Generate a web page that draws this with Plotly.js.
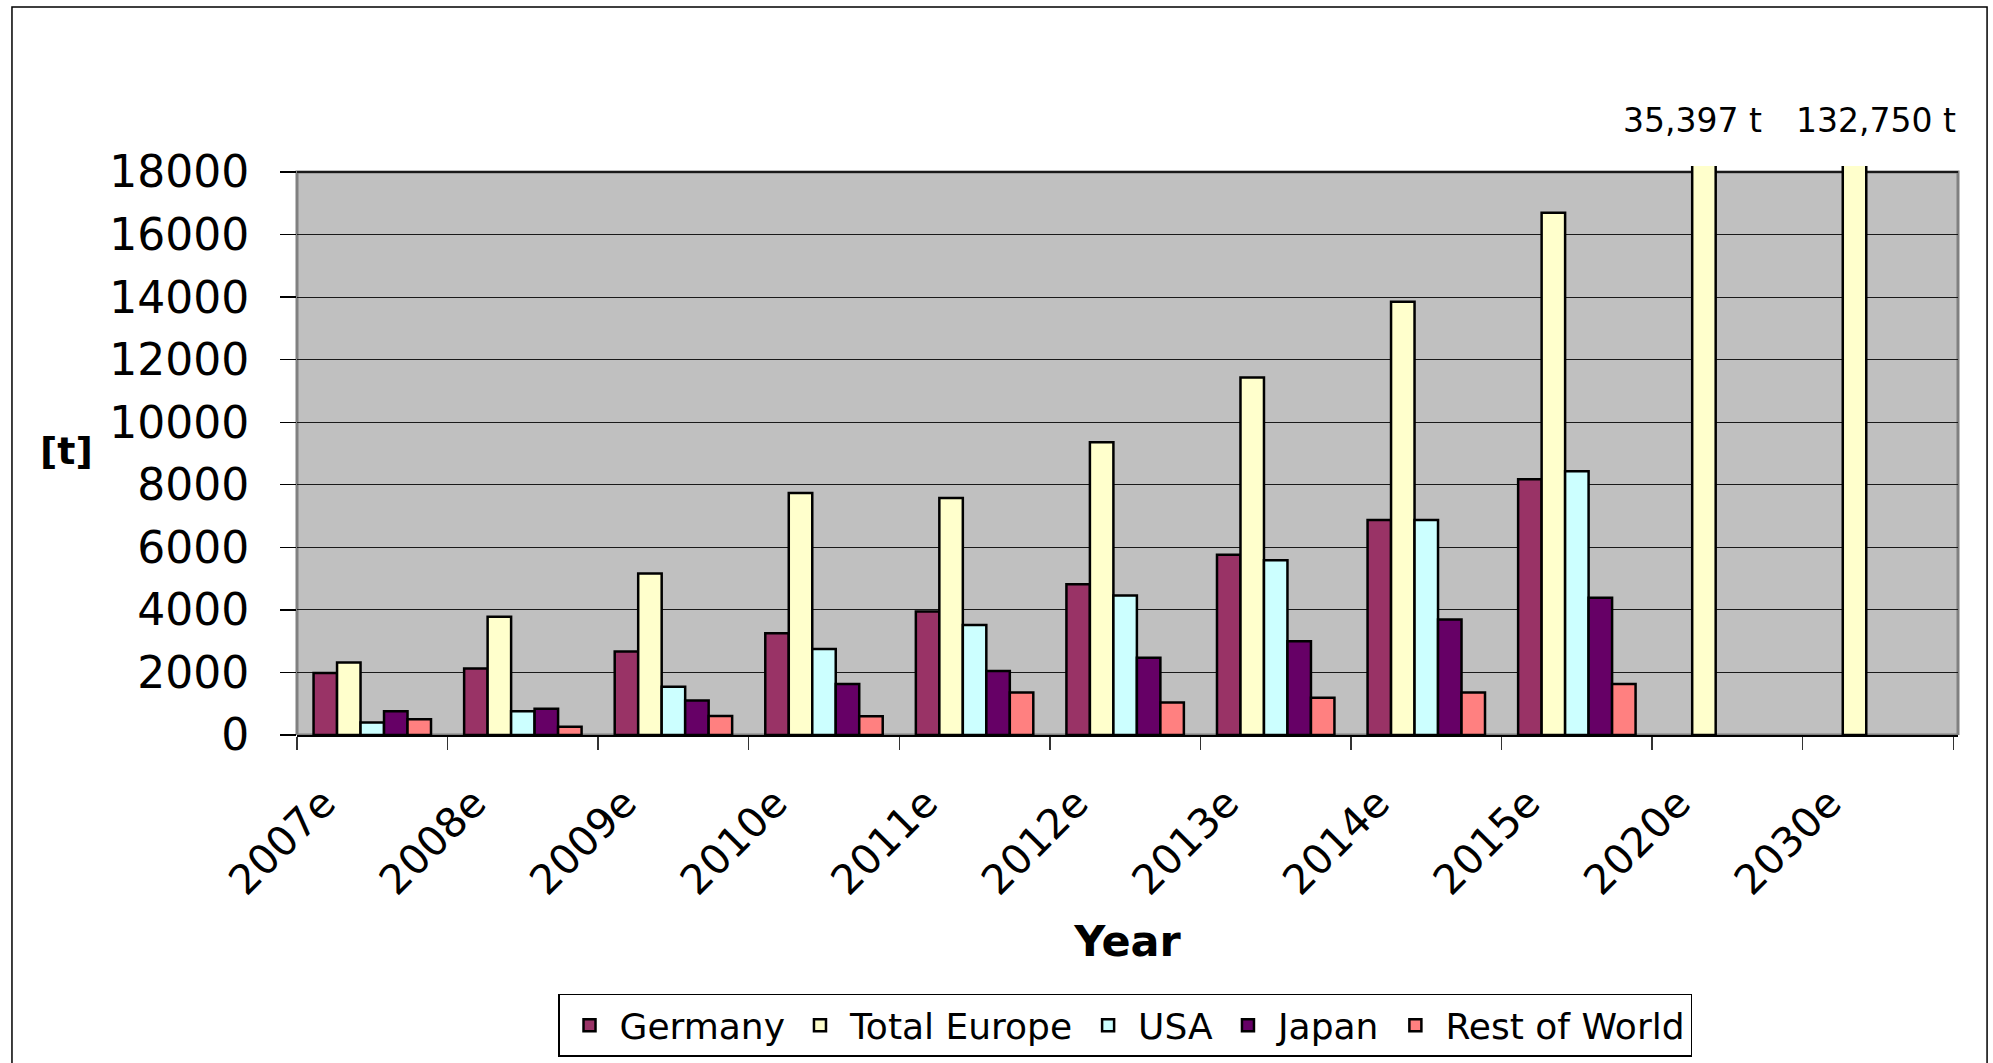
<!DOCTYPE html>
<html>
<head>
<meta charset="utf-8">
<script src="https://cdn.plot.ly/plotly-3.0.1.min.js"></script>
<style>html,body{margin:0;padding:0;background:#fff;}#chart{width:1993px;height:1063px;}</style>
</head>
<body>
<div id="chart"></div>
<script>
const categories = ['2007e','2008e','2009e','2010e','2011e','2012e','2013e','2014e','2015e','2020e','2030e'];
const germany     = [1980, 2130, 2670, 3250, 3950, 4820, 5760, 6870, 8180, null, null];
const totalEurope = [2320, 3780, 5160, 7740, 7580, 9360, 11430, 13850, 16700, 35397, 132750];
const usa         = [400, 760, 1540, 2750, 3520, 4460, 5590, 6870, 8430, null, null];
const japan       = [760, 840, 1100, 1630, 2050, 2470, 3000, 3690, 4390, null, null];
const restOfWorld = [500, 260, 610, 600, 1360, 1040, 1190, 1360, 1630, null, null];
const seriesNames = ['Germany','Total Europe','USA','Japan','Rest of World'];
const yTicks = [0,2000,4000,6000,8000,10000,12000,14000,16000,18000];
const yMax = 18000;

const colors = ['#993366','#FFFFCC','#CCFFFF','#660066','#FF8080'];
const FONT = 'DejaVu Sans, Liberation Sans, Arial, sans-serif';
const seriesData = [germany, totalEurope, usa, japan, restOfWorld];

const traces = seriesData.map((vals, i) => ({
  type: 'bar',
  name: seriesNames[i],
  x: categories,
  y: vals,
  marker: {color: colors[i], line: {color: '#000', width: 2.5}},
  hoverinfo: 'skip'
}));

function fmt(v){ return v.toLocaleString('en-US') + ' t'; }
const offChart = categories.map((c, i) => ({c, v: totalEurope[i]})).filter(d => d.v > yMax);
const shifts = [-35, -2];
const annotations = offChart.map((d, k) => ({
  xref: 'x', x: d.c, yref: 'paper', y: 1.08, yanchor: 'middle', xanchor: 'center',
  xshift: shifts[k] || 0, text: fmt(d.v), showarrow: false,
  font: {family: FONT, size: 33, color: '#000'}
}));
annotations.push({
  xref: 'paper', x: -0.139, yref: 'paper', y: 0.5, xanchor: 'center', yanchor: 'middle',
  text: '<b>[t]</b>', showarrow: false, font: {family: FONT, size: 38, color: '#000'}
});

const layout = {
  width: 1993, height: 1063,
  margin: {l: 297, r: 35, t: 166, b: 328, pad: 0, autoexpand: false},
  paper_bgcolor: '#fff', plot_bgcolor: 'rgba(0,0,0,0)',
  barmode: 'group', bargap: 0.22, bargroupgap: 0,
  showlegend: true,
  legend: {
    orientation: 'h', x: 0.4985, xanchor: 'center', y: -0.455, yanchor: 'top',
    bordercolor: '#000', borderwidth: 1.5, bgcolor: '#fff', itemwidth: 50,
    font: {family: FONT, size: 36, color: '#000'}, traceorder: 'normal'
  },
  xaxis: {
    type: 'category', tickangle: -45, tickson: 'boundaries', automargin: false,
    ticks: 'outside', ticklen: 13, tickcolor: '#333', tickwidth: 1.3,
    showline: true, linecolor: '#000', linewidth: 1.5, showgrid: false,
    tickfont: {family: FONT, size: 41, color: '#000'},
    ticklabelshift: -49, ticklabelstandoff: 26,
    title: {text: '<b>Year</b>', font: {family: FONT, size: 43, color: '#000'}, standoff: 22}
  },
  yaxis: {
    range: [0, 18192], tickvals: yTicks, tickformat: 'd', automargin: false,
    ticks: 'outside', ticklen: 16, tickcolor: '#000', tickwidth: 1.3,
    showgrid: true, gridcolor: '#1a1a1a', gridwidth: 1.2, zeroline: false, showline: false,
    tickfont: {family: FONT, size: 44, color: '#000'}, ticklabelstandoff: 22
  },
  shapes: [
    {type: 'rect', layer: 'below', xref: 'paper', x0: 0, x1: 1, yref: 'y', y0: 0, y1: yMax,
     fillcolor: '#C0C0C0', line: {width: 0}},
    {type: 'rect', layer: 'between', xref: 'paper', x0: 0, x1: 1, yref: 'y', y0: 0, y1: yMax,
     fillcolor: 'rgba(0,0,0,0)', line: {color: '#808080', width: 3}},
    {type: 'rect', layer: 'below', xref: 'paper', x0: -0.1716, x1: 1.0175, yref: 'paper', y0: -0.6, y1: 1.2794,
     fillcolor: 'rgba(0,0,0,0)', line: {color: '#000', width: 1.5}}
  ],
  annotations: annotations
};

Plotly.newPlot('chart', traces, layout, {displayModeBar: false, staticPlot: true});
</script>
</body>
</html>
